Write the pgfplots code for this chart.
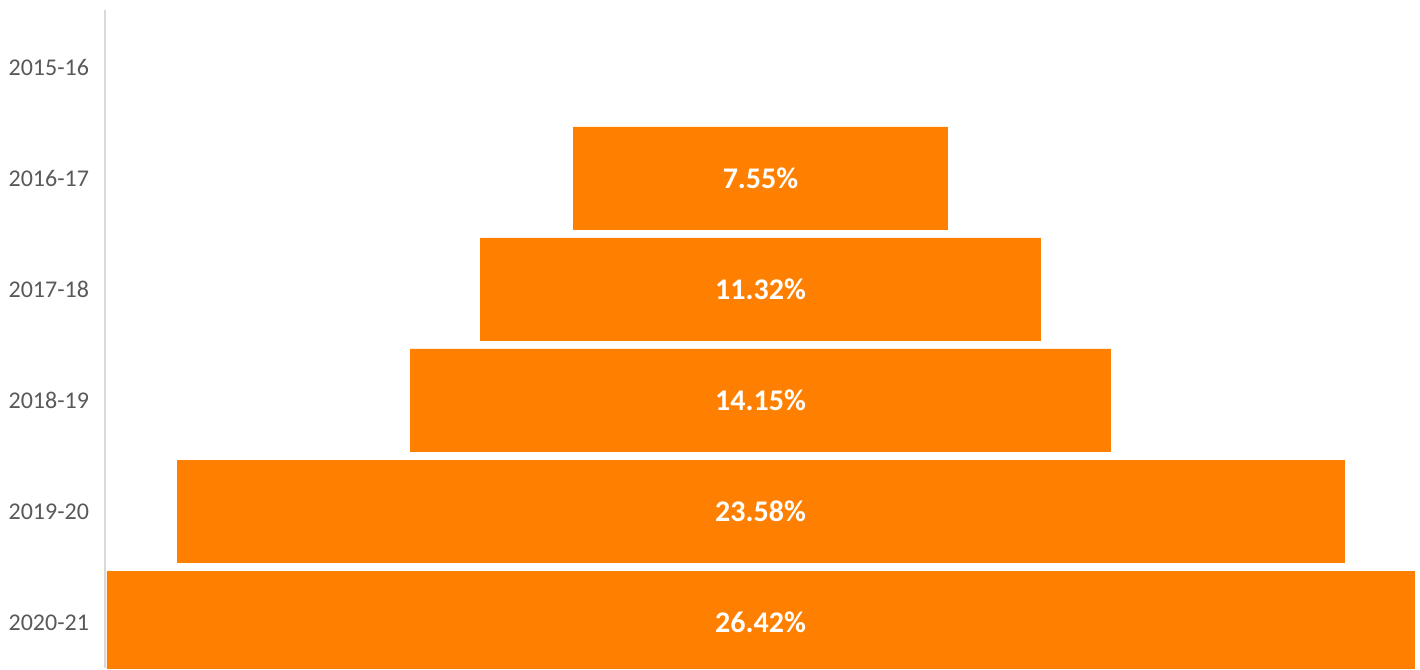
\documentclass[border=0pt]{standalone}
\usepackage{pgfplots}
\pgfplotsset{compat=1.18}
\usepackage{fontspec}
\setmainfont{Carlito}
\definecolor{barorange}{HTML}{FF7F00}
\definecolor{axisgray}{HTML}{D9D9D9}
\definecolor{labelgray}{HTML}{595959}
\begin{document}
\begin{tikzpicture}
\begin{axis}[
    scale only axis,
    width=657.5bp,
    height=329bp,
    xmin=-13.25, xmax=13.33,
    ymin=-0.515, ymax=5.41,
    y dir=reverse,
    axis x line=none,
    axis y line*=left,
    axis line style={axisgray, line width=1.2bp},
    ytick={0,1,2,3,4,5},
    yticklabels={{2015-16},{2016-17},{2017-18},{2018-19},{2019-20},{2020-21}},
    major tick length=0,
    yticklabel style={font=\fontsize{12bp}{14bp}\selectfont, text=labelgray, xshift=-4.5bp},
    bar width=0.925,
    clip=true,
]
% right half of each funnel bar (value / 2); 2015-16 is 0, no bar
\addplot[xbar, bar shift=0, fill=barorange, draw=barorange, line width=0.3bp] coordinates {
    (3.775,1) (5.66,2) (7.075,3) (11.79,4) (13.21,5)
};
% left half
\addplot[xbar, bar shift=0, fill=barorange, draw=barorange, line width=0.3bp] coordinates {
    (-3.775,1) (-5.66,2) (-7.075,3) (-11.79,4) (-13.21,5)
};
% labels in the middle
\addplot[only marks, mark=none, nodes near coords, point meta=explicit symbolic,
    every node near coord/.style={anchor=center, text=white,
        font=\fontsize{15bp}{18bp}\selectfont\bfseries}]
    table[meta=label] {
x y label
0 1 7.55\%
0 2 11.32\%
0 3 14.15\%
0 4 23.58\%
0 5 26.42\%
};
\end{axis}
\path ([xshift=-52.5bp]current axis.south west) rectangle ([yshift=5bp]current axis.north east);
\end{tikzpicture}
\end{document}
